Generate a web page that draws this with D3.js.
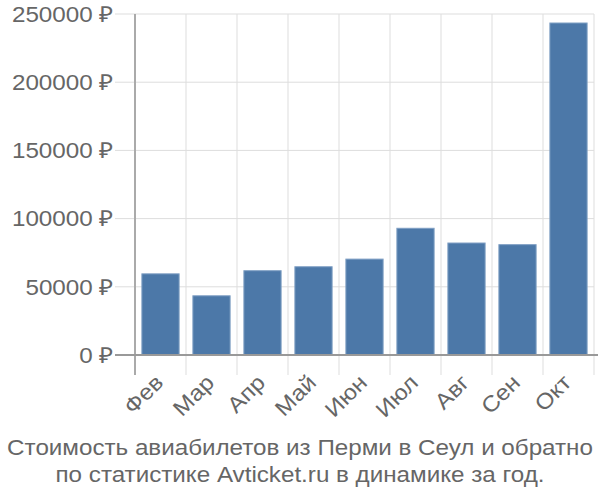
<!DOCTYPE html>
<html>
<head>
<meta charset="utf-8">
<script src="https://cdn.jsdelivr.net/npm/d3@7"></script>
<style>
body { margin: 0; background: #fff; }
text { font-family: "Liberation Sans", Arial, sans-serif; fill: #666; }
</style>
</head>
<body>
<svg id="chart" width="600" height="500"></svg>
<script>
// data
var months = ["Фев", "Мар", "Апр", "Май", "Июн", "Июл", "Авг", "Сен", "Окт"];
var prices = [59500, 43400, 61800, 64700, 70300, 92900, 82100, 80900, 243400];
var yTicks = [0, 50000, 100000, 150000, 200000, 250000];
var titleLines = ["Стоимость авиабилетов из Перми в Сеул и обратно",
                  "по статистике Avticket.ru в динамике за год."];

var svg = d3.select("#chart");
var pLeft = 135, pRight = 594, pTop = 14, pBottom = 355;
var stretch = "scale(1.1,1)";

var x = d3.scaleBand().domain(months).range([pLeft, pRight]).paddingInner(0.27).paddingOuter(0.135);
var y = d3.scaleLinear().domain([0, 250000]).range([pBottom, pTop]);

var step = (pRight - pLeft) / months.length;

// vertical grid lines (between bands), extending down as ticks
var vx = d3.range(months.length + 1).map(function(i){ return pLeft + i * step; });
svg.selectAll(".vgrid").data(vx).enter().append("line")
    .attr("x1", function(d){ return d; }).attr("x2", function(d){ return d; })
    .attr("y1", pTop).attr("y2", pBottom + 20)
    .attr("stroke", "#ddd").attr("stroke-width", 1);

// horizontal grid lines
svg.selectAll(".hgrid").data(yTicks).enter().append("line")
    .attr("x1", pLeft - 20).attr("x2", pRight)
    .attr("y1", function(d){ return y(d); }).attr("y2", function(d){ return y(d); })
    .attr("stroke", "#ddd").attr("stroke-width", 1);

// left axis line
svg.append("line").attr("x1", pLeft).attr("x2", pLeft)
    .attr("y1", pTop).attr("y2", pBottom + 20)
    .attr("stroke", "#aaa").attr("stroke-width", 2);

// y labels
svg.selectAll(".ylab").data(yTicks).enter().append("text")
    .attr("transform", function(d){ return "translate(" + (pLeft - 22) + "," + y(d) + ") " + stretch; })
    .attr("dy", "0.35em").attr("text-anchor", "end")
    .style("font-size", "22px")
    .text(function(d){ return d + " ₽"; });

// bars
svg.selectAll(".bar").data(prices).enter().append("rect")
    .attr("x", function(d, i){ return x(months[i]); })
    .attr("width", x.bandwidth())
    .attr("y", function(d){ return y(d); })
    .attr("height", function(d){ return pBottom - y(d); })
    .attr("fill", "#4c78a8")
    .attr("stroke", "#7f9fc4").attr("stroke-width", 1);

// zero axis on top
svg.append("line").attr("x1", pLeft - 20).attr("x2", pRight + 4)
    .attr("y1", pBottom).attr("y2", pBottom)
    .attr("stroke", "#999").attr("stroke-width", 2);

// x labels
svg.selectAll(".xlab").data(months).enter().append("text")
    .attr("transform", function(d){
        return "translate(" + (x(d) + x.bandwidth() / 2 + 4) + "," + (pBottom + 29) + ") rotate(-45) " + stretch;
    })
    .attr("text-anchor", "end")
    .style("font-size", "22px")
    .text(function(d){ return d; });

// title
svg.selectAll(".title").data(titleLines).enter().append("text")
    .attr("transform", function(d, i){ return "translate(300," + (455 + i * 27) + ") " + stretch; })
    .attr("text-anchor", "middle")
    .style("font-size", "22px")
    .text(function(d){ return d; });
</script>
</body>
</html>
